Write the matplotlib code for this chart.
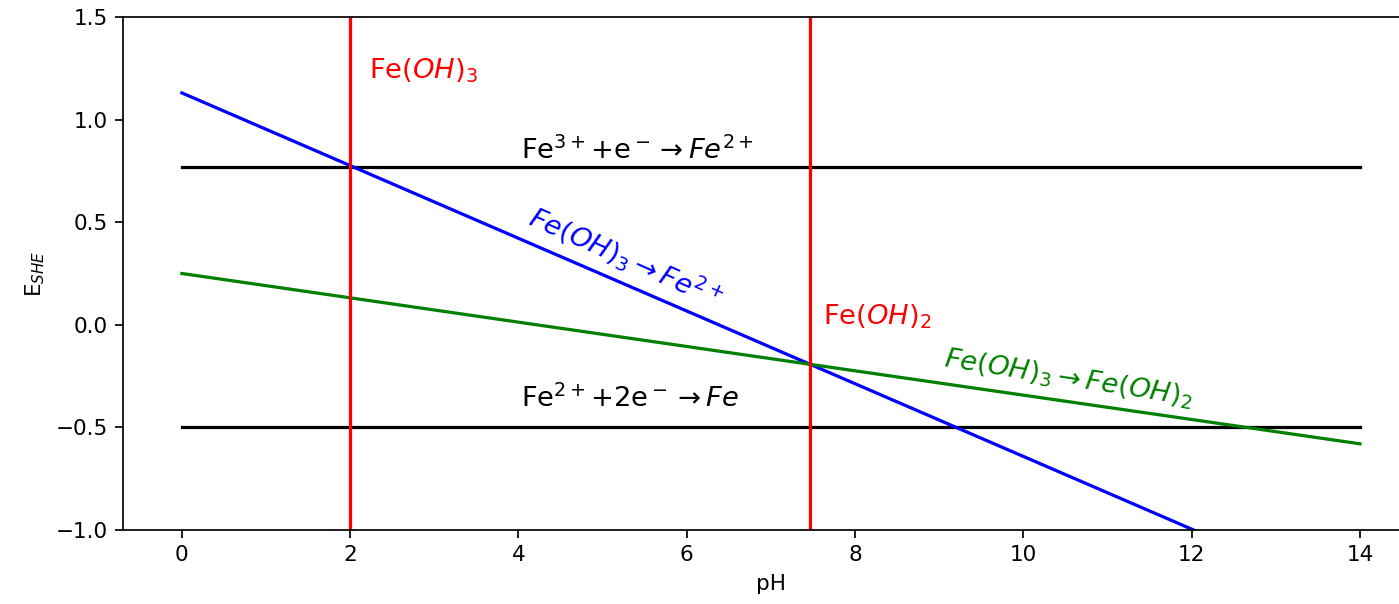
import matplotlib
matplotlib.use("Agg")
import matplotlib.pyplot as plt

# Pourbaix-style diagram for iron: potential vs pH
ph_range = [0, 14]
e_fe3_fe2 = [0.77, 0.77]          # Fe3+ + e- -> Fe2+
e_fe2_fe = [-0.5, -0.5]           # Fe2+ + 2e- -> Fe
e_feoh3_fe2 = [1.13, -1.35]       # Fe(OH)3 -> Fe2+
e_feoh3_feoh2 = [0.25, -0.58]     # Fe(OH)3 -> Fe(OH)2
ph_boundaries = [2.0, 7.46]       # precipitation boundaries

DPI = 155
fig = plt.figure(figsize=(1399 / DPI, 604 / DPI), dpi=DPI)
ax = fig.add_axes([0.0879, 0.1225, 0.9263, 0.8494])

ax.plot(ph_range, e_fe3_fe2, color="black")
ax.plot(ph_range, e_fe2_fe, color="black")
ax.plot(ph_range, e_feoh3_fe2, color="blue")
ax.plot(ph_range, e_feoh3_feoh2, color="green")
for x in ph_boundaries:
    ax.axvline(x, color="red")

ax.set_xlim(-0.7, 14.7)
ax.set_ylim(-1.0, 1.5)
ax.set_xticks([0, 2, 4, 6, 8, 10, 12, 14])
ax.set_yticks([-1.0, -0.5, 0.0, 0.5, 1.0, 1.5])
ax.set_xlabel("pH")
ax.set_ylabel("E$_{SHE}$")

fs = 12.7
ax.text(4.03, 0.81, r"Fe$^{3+}$+e$^-$$\rightarrow Fe^{2+}$", fontsize=fs, color="black")
ax.text(4.03, -0.40, r"Fe$^{2+}$+2e$^-$$\rightarrow Fe$", fontsize=fs, color="black")
ax.text(2.22, 1.2, r"Fe$(OH)_3$", fontsize=fs, color="red")
ax.text(7.62, 0.0, r"Fe$(OH)_2$", fontsize=fs, color="red")
ax.text(4.1, 0.49, r"$Fe(OH)_3 \rightarrow Fe^{2+}$", fontsize=fs, color="blue",
        rotation=-24, rotation_mode="anchor")
ax.text(9.05, -0.205, r"$Fe(OH)_3 \rightarrow Fe(OH)_2$", fontsize=fs, color="green",
        rotation=-9, rotation_mode="anchor")

fig.savefig("out.png", dpi=DPI)
